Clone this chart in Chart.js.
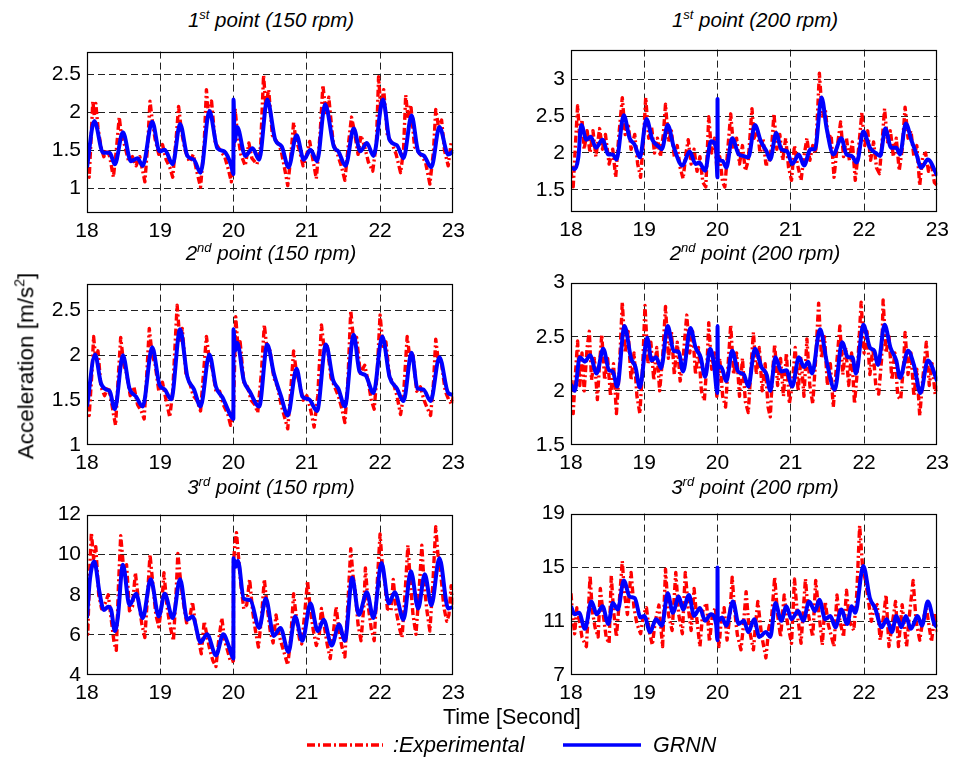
<!DOCTYPE html>
<html>
<head>
<meta charset="utf-8">
<script src="https://cdn.jsdelivr.net/npm/chart.js@4.4.1/dist/chart.umd.min.js"></script>
<style>
  html, body { margin:0; padding:0; background:#fff; }
  #wrap { position:relative; width:954px; height:757px; overflow:hidden; font-family:'Liberation Sans', Arial, sans-serif; color:#000; }
  canvas { position:absolute; }
  .ttl { position:absolute; width:400px; text-align:center; font-style:italic; font-size:20.5px; line-height:22px; white-space:nowrap; }
  .ttl sup { font-size:13px; vertical-align:8px; line-height:0; }
  .lbl { position:absolute; white-space:nowrap; font-size:21.5px; line-height:24px; }
</style>
</head>
<body>
<div id="wrap">
  <svg id="leg" width="954" height="757" style="position:absolute;left:0;top:0;pointer-events:none">
    <line x1="307" y1="745" x2="383" y2="745" stroke="#ff0000" stroke-width="3.5" stroke-dasharray="8 3 2 3"/>
    <line x1="563" y1="745" x2="641" y2="745" stroke="#0000ff" stroke-width="3.5"/>
  </svg>
</div>
<script>
// ---------- data (time [s], acceleration [m/s^2]) ----------
const xTicks = [18, 19, 20, 21, 22, 23];
const p1YTicks = [1, 1.5, 2, 2.5];
const p2YTicks = [1.5, 2, 2.5, 3];
const p3YTicks = [1, 1.5, 2, 2.5];
const p4YTicks = [1.5, 2, 2.5, 3];
const p5YTicks = [4, 6, 8, 10, 12];
const p6YTicks = [7, 11, 15, 19];
const titles = [
  '1<sup>st</sup> point (150 rpm)', '1<sup>st</sup> point (200 rpm)',
  '2<sup>nd</sup> point (150 rpm)', '2<sup>nd</sup> point (200 rpm)',
  '3<sup>rd</sup> point (150 rpm)', '3<sup>rd</sup> point (200 rpm)'
];
const seriesNames = [':Experimental', 'GRNN'];

const p1Grnn = [[18.00,1.28],[18.10,1.89],[18.22,1.47],[18.31,1.47],[18.38,1.32],[18.49,1.74],[18.60,1.36],[18.69,1.40],[18.76,1.30],[18.89,1.88],[18.99,1.49],[19.06,1.51],[19.17,1.32],[19.27,1.85],[19.37,1.43],[19.46,1.38],[19.55,1.21],[19.67,2.02],[19.78,1.53],[19.87,1.49],[19.97,1.30],[19.998,1.19],[20.0,2.17],[20.015,1.62],[20.05,1.81],[20.16,1.43],[20.26,1.53],[20.35,1.38],[20.46,2.17],[20.57,1.64],[20.66,1.55],[20.75,1.28],[20.86,1.70],[20.96,1.38],[21.05,1.51],[21.14,1.36],[21.25,2.11],[21.37,1.55],[21.43,1.49],[21.53,1.30],[21.64,1.79],[21.73,1.49],[21.82,1.60],[21.91,1.43],[22.04,2.17],[22.13,1.64],[22.23,1.57],[22.32,1.40],[22.43,1.96],[22.52,1.49],[22.60,1.43],[22.70,1.28],[22.81,1.81],[22.93,1.45],[23.00,1.49]];
const p1Exp = [[18.00,1.30],[18.03,1.15],[18.06,1.75],[18.08,2.15],[18.10,1.95],[18.12,2.12],[18.15,1.80],[18.19,1.55],[18.23,1.42],[18.27,1.52],[18.31,1.42],[18.36,1.15],[18.40,1.50],[18.44,1.94],[18.47,1.70],[18.52,1.55],[18.57,1.35],[18.62,1.42],[18.67,1.30],[18.72,1.42],[18.79,1.09],[18.83,1.60],[18.86,2.15],[18.89,1.90],[18.93,1.65],[18.98,1.45],[19.03,1.58],[19.08,1.38],[19.13,1.28],[19.17,1.15],[19.22,1.70],[19.25,2.08],[19.29,1.75],[19.34,1.50],[19.40,1.35],[19.45,1.45],[19.50,1.22],[19.55,1.02],[19.60,1.60],[19.63,2.30],[19.66,1.95],[19.70,2.15],[19.75,1.60],[19.82,1.50],[19.88,1.42],[19.93,1.25],[19.97,1.09],[20.00,1.40],[20.02,2.06],[20.05,1.75],[20.10,1.45],[20.16,1.30],[20.21,1.60],[20.25,1.40],[20.32,1.32],[20.37,1.55],[20.41,2.49],[20.44,2.10],[20.48,2.30],[20.53,1.70],[20.59,1.62],[20.65,1.50],[20.70,1.25],[20.74,1.04],[20.78,1.40],[20.82,1.87],[20.85,1.65],[20.90,1.50],[20.95,1.30],[21.00,1.45],[21.04,1.62],[21.08,1.40],[21.13,1.13],[21.18,1.70],[21.22,2.36],[21.26,2.00],[21.30,2.20],[21.36,1.60],[21.42,1.45],[21.47,1.30],[21.52,1.11],[21.57,1.60],[21.61,1.94],[21.65,1.75],[21.70,1.45],[21.74,1.70],[21.79,1.55],[21.84,1.35],[21.90,1.23],[21.95,1.60],[21.98,2.47],[22.01,2.05],[22.05,2.30],[22.10,1.70],[22.16,1.60],[22.22,1.45],[22.28,1.21],[22.32,1.50],[22.35,2.23],[22.38,1.95],[22.42,2.10],[22.47,1.55],[22.55,1.45],[22.62,1.35],[22.68,1.06],[22.73,1.50],[22.76,2.04],[22.80,1.80],[22.84,1.90],[22.88,1.50],[22.93,1.30],[22.97,1.60],[23.00,1.62]];

const p2Grnn = [[18.00,1.80],[18.05,1.78],[18.10,1.94],[18.14,2.38],[18.21,2.18],[18.27,2.22],[18.34,2.07],[18.43,2.18],[18.51,1.98],[18.57,1.98],[18.62,1.91],[18.72,2.51],[18.80,2.20],[18.87,2.11],[18.94,1.94],[19.03,2.46],[19.11,2.18],[19.19,2.09],[19.24,2.05],[19.32,2.38],[19.40,2.09],[19.52,1.83],[19.62,2.02],[19.70,1.85],[19.75,1.87],[19.83,1.76],[19.91,2.16],[19.98,2.07],[19.999,1.67],[20.0,2.73],[20.003,1.95],[20.07,1.89],[20.12,1.80],[20.20,2.20],[20.29,1.98],[20.35,1.96],[20.42,1.94],[20.51,2.38],[20.59,2.16],[20.67,2.02],[20.72,1.91],[20.80,2.27],[20.87,2.05],[20.95,2.02],[21.02,1.85],[21.11,1.98],[21.18,1.83],[21.27,2.05],[21.33,2.05],[21.42,2.75],[21.49,2.33],[21.58,1.98],[21.69,2.20],[21.76,1.98],[21.83,1.96],[21.90,1.87],[21.99,2.29],[22.08,2.07],[22.16,2.00],[22.22,1.96],[22.29,2.33],[22.37,2.07],[22.44,2.07],[22.49,1.98],[22.57,2.40],[22.65,2.16],[22.71,2.00],[22.78,1.80],[22.87,1.91],[23.00,1.69]];
const p2Exp = [[18.00,1.75],[18.03,1.54],[18.06,2.10],[18.09,2.64],[18.12,2.20],[18.15,2.45],[18.18,2.05],[18.22,2.30],[18.26,2.00],[18.30,2.30],[18.34,1.95],[18.39,2.33],[18.43,2.05],[18.47,2.25],[18.52,1.85],[18.57,2.05],[18.61,1.67],[18.65,2.20],[18.70,2.75],[18.74,2.25],[18.78,2.40],[18.82,2.05],[18.87,2.25],[18.91,1.85],[18.95,1.67],[18.99,2.20],[19.02,2.75],[19.06,2.20],[19.10,2.35],[19.14,2.00],[19.18,2.20],[19.22,1.95],[19.26,2.25],[19.29,2.66],[19.33,2.15],[19.37,2.30],[19.41,1.95],[19.45,2.10],[19.49,1.80],[19.53,1.65],[19.57,2.00],[19.60,2.18],[19.64,1.85],[19.68,2.05],[19.72,1.75],[19.76,1.95],[19.80,1.60],[19.84,1.54],[19.88,2.49],[19.92,2.00],[19.96,2.20],[19.99,1.80],[20.03,1.95],[20.07,1.60],[20.10,1.54],[20.14,2.05],[20.18,2.53],[20.22,2.05],[20.26,2.20],[20.30,1.85],[20.34,2.10],[20.38,1.76],[20.42,1.90],[20.47,2.60],[20.50,2.20],[20.54,2.35],[20.58,2.00],[20.62,2.20],[20.66,1.85],[20.70,1.85],[20.74,2.10],[20.77,2.53],[20.81,2.05],[20.85,2.25],[20.89,1.90],[20.93,2.20],[20.97,1.80],[21.01,1.63],[21.05,2.10],[21.09,1.85],[21.14,1.63],[21.18,1.95],[21.22,2.20],[21.26,1.90],[21.30,2.10],[21.34,2.00],[21.39,3.08],[21.43,2.50],[21.47,2.60],[21.51,2.20],[21.55,2.25],[21.59,1.67],[21.63,2.05],[21.68,2.42],[21.72,1.95],[21.76,2.20],[21.80,1.90],[21.84,2.15],[21.88,1.63],[21.92,2.00],[21.97,2.55],[22.01,2.10],[22.05,2.30],[22.09,1.90],[22.13,2.15],[22.17,1.80],[22.21,1.72],[22.25,2.20],[22.28,2.60],[22.32,2.15],[22.36,2.30],[22.40,1.95],[22.44,2.20],[22.48,1.76],[22.52,2.05],[22.56,2.62],[22.60,2.20],[22.64,2.30],[22.68,1.95],[22.72,2.10],[22.76,1.56],[22.80,1.95],[22.84,2.00],[22.88,1.75],[22.92,1.85],[22.96,1.60],[23.00,1.56]];

const p3Grnn = [[18.00,1.43],[18.11,2.01],[18.19,1.69],[18.26,1.62],[18.31,1.60],[18.38,1.40],[18.49,2.00],[18.58,1.63],[18.67,1.54],[18.76,1.43],[18.89,2.09],[18.99,1.67],[19.06,1.62],[19.15,1.51],[19.27,2.29],[19.37,1.76],[19.46,1.62],[19.55,1.43],[19.67,2.01],[19.76,1.65],[19.85,1.53],[19.96,1.33],[19.998,1.29],[20.0,2.29],[20.02,2.05],[20.05,2.14],[20.14,1.72],[20.22,1.60],[20.35,1.43],[20.46,2.12],[20.55,1.80],[20.65,1.54],[20.74,1.33],[20.86,1.85],[20.94,1.54],[21.03,1.51],[21.14,1.38],[21.26,2.12],[21.36,1.72],[21.43,1.63],[21.52,1.43],[21.64,2.23],[21.72,1.82],[21.80,1.78],[21.91,1.58],[22.03,2.21],[22.13,1.76],[22.23,1.63],[22.32,1.49],[22.43,2.03],[22.51,1.63],[22.59,1.62],[22.69,1.49],[22.81,1.98],[22.93,1.58],[23.00,1.56]];
const p3Exp = [[18.00,1.45],[18.03,1.33],[18.07,1.85],[18.09,2.21],[18.12,1.95],[18.15,2.05],[18.19,1.65],[18.24,1.55],[18.29,1.65],[18.33,1.50],[18.36,1.35],[18.39,1.22],[18.43,1.80],[18.46,2.20],[18.50,1.90],[18.54,1.80],[18.59,1.55],[18.64,1.65],[18.69,1.45],[18.74,1.38],[18.78,1.29],[18.82,1.85],[18.85,2.30],[18.89,2.00],[18.93,1.90],[18.98,1.60],[19.03,1.70],[19.08,1.50],[19.13,1.31],[19.17,1.60],[19.23,2.56],[19.27,2.15],[19.30,2.30],[19.35,1.80],[19.40,1.70],[19.45,1.55],[19.50,1.50],[19.55,1.38],[19.59,1.80],[19.63,2.21],[19.67,1.95],[19.71,1.85],[19.76,1.60],[19.81,1.60],[19.86,1.45],[19.92,1.35],[19.96,1.22],[20.00,1.40],[20.03,2.43],[20.06,2.10],[20.09,2.15],[20.14,1.70],[20.19,1.65],[20.24,1.50],[20.29,1.45],[20.33,1.36],[20.38,1.80],[20.42,2.34],[20.46,2.05],[20.50,2.05],[20.55,1.75],[20.60,1.65],[20.65,1.45],[20.70,1.30],[20.74,1.18],[20.78,1.60],[20.82,2.05],[20.86,1.80],[20.90,1.70],[20.95,1.50],[21.00,1.55],[21.05,1.40],[21.10,1.20],[21.15,1.55],[21.20,2.34],[21.24,2.05],[21.28,2.10],[21.33,1.75],[21.38,1.65],[21.43,1.55],[21.48,1.40],[21.52,1.25],[21.56,1.70],[21.60,2.50],[21.64,2.15],[21.68,2.20],[21.73,1.80],[21.79,1.89],[21.84,1.70],[21.88,1.50],[21.92,1.40],[21.96,1.80],[22.00,2.45],[22.04,2.10],[22.08,2.15],[22.13,1.75],[22.18,1.70],[22.23,1.55],[22.28,1.34],[22.32,1.55],[22.37,2.21],[22.41,1.95],[22.45,2.00],[22.50,1.60],[22.55,1.65],[22.60,1.50],[22.65,1.40],[22.69,1.33],[22.73,1.70],[22.76,2.18],[22.80,1.90],[22.84,1.90],[22.89,1.60],[22.94,1.50],[22.98,1.45],[23.00,1.55]];

const p4Grnn = [[18.00,2.06],[18.05,2.00],[18.12,2.31],[18.19,2.27],[18.26,2.33],[18.35,2.16],[18.44,2.39],[18.52,2.19],[18.57,2.18],[18.63,2.04],[18.73,2.60],[18.82,2.30],[18.88,2.22],[18.94,2.03],[19.04,2.49],[19.10,2.28],[19.16,2.31],[19.23,2.21],[19.32,2.60],[19.40,2.37],[19.47,2.36],[19.53,2.18],[19.63,2.58],[19.70,2.40],[19.77,2.31],[19.83,2.13],[19.90,2.39],[19.95,2.25],[19.998,1.98],[20.0,2.60],[20.005,2.25],[20.05,2.22],[20.12,2.09],[20.20,2.37],[20.28,2.18],[20.36,2.15],[20.42,2.04],[20.51,2.39],[20.60,2.22],[20.67,2.15],[20.72,2.00],[20.79,2.31],[20.87,2.18],[20.94,2.19],[21.02,2.04],[21.11,2.31],[21.18,2.22],[21.24,2.27],[21.29,2.16],[21.40,2.57],[21.49,2.27],[21.60,2.01],[21.70,2.45],[21.78,2.31],[21.84,2.31],[21.89,2.16],[21.99,2.61],[22.08,2.40],[22.14,2.37],[22.19,2.24],[22.28,2.61],[22.36,2.40],[22.44,2.28],[22.49,2.12],[22.60,2.37],[22.68,2.24],[22.77,1.98],[22.87,2.28],[23.00,2.09]];
const p4Exp = [[18.00,2.10],[18.03,1.79],[18.06,2.15],[18.09,2.46],[18.12,2.05],[18.15,2.35],[18.18,2.00],[18.22,2.40],[18.25,2.55],[18.28,2.10],[18.32,2.30],[18.36,1.92],[18.39,2.25],[18.42,2.52],[18.46,2.10],[18.50,2.30],[18.54,1.95],[18.58,2.25],[18.62,1.79],[18.66,2.20],[18.70,2.82],[18.74,2.35],[18.78,2.55],[18.82,2.10],[18.86,2.35],[18.90,1.95],[18.94,1.79],[18.98,2.25],[19.01,2.79],[19.05,2.25],[19.09,2.45],[19.13,2.10],[19.17,2.40],[19.21,2.00],[19.25,2.30],[19.29,2.78],[19.33,2.30],[19.37,2.55],[19.41,2.15],[19.45,2.45],[19.49,2.09],[19.53,2.30],[19.58,2.70],[19.62,2.35],[19.66,2.55],[19.70,2.15],[19.74,2.40],[19.78,2.00],[19.82,1.91],[19.86,2.30],[19.88,2.63],[19.92,2.20],[19.96,2.35],[19.99,1.95],[20.03,2.30],[20.07,1.95],[20.11,1.85],[20.15,2.30],[20.18,2.61],[20.22,2.15],[20.26,2.35],[20.30,1.95],[20.34,2.30],[20.38,1.90],[20.42,1.80],[20.46,2.25],[20.49,2.54],[20.53,2.15],[20.57,2.40],[20.61,2.00],[20.65,2.25],[20.69,1.85],[20.72,1.76],[20.75,2.15],[20.78,2.43],[20.82,2.05],[20.86,2.30],[20.90,1.95],[20.94,2.35],[20.98,1.88],[21.02,2.05],[21.06,2.40],[21.10,2.00],[21.14,2.30],[21.18,1.95],[21.22,2.48],[21.26,2.05],[21.30,1.88],[21.34,2.30],[21.38,2.81],[21.42,2.30],[21.46,2.50],[21.50,2.05],[21.54,2.25],[21.58,1.85],[21.62,2.20],[21.67,2.60],[21.71,2.15],[21.75,2.40],[21.79,2.05],[21.83,2.35],[21.87,1.88],[21.91,2.20],[21.96,2.82],[22.00,2.35],[22.04,2.55],[22.08,2.15],[22.12,2.40],[22.16,2.05],[22.20,1.97],[22.24,2.30],[22.26,2.84],[22.30,2.35],[22.34,2.50],[22.38,2.10],[22.42,2.35],[22.46,1.95],[22.50,1.92],[22.54,2.25],[22.56,2.54],[22.60,2.15],[22.64,2.35],[22.68,1.95],[22.72,2.20],[22.76,1.77],[22.80,2.10],[22.85,2.45],[22.89,2.05],[22.93,2.25],[22.97,1.97],[23.00,2.05]];

const p5Grnn = [[18.00,6.84],[18.04,8.77],[18.10,9.66],[18.17,8.13],[18.23,7.24],[18.29,7.40],[18.33,7.24],[18.38,6.19],[18.42,6.84],[18.49,9.50],[18.58,7.48],[18.67,8.05],[18.76,6.84],[18.87,8.77],[18.98,6.92],[19.06,8.05],[19.17,6.84],[19.27,8.77],[19.37,6.76],[19.44,6.92],[19.55,5.63],[19.64,6.03],[19.76,4.98],[19.86,6.03],[19.94,5.39],[19.998,4.82],[20.0,9.82],[20.03,9.40],[20.06,9.70],[20.14,7.81],[20.23,7.73],[20.35,6.35],[20.44,7.81],[20.55,5.95],[20.64,6.35],[20.75,5.15],[20.84,6.92],[20.94,5.71],[21.05,7.56],[21.15,6.19],[21.23,6.76],[21.34,5.47],[21.44,6.52],[21.52,5.71],[21.62,8.85],[21.71,7.00],[21.82,8.13],[21.91,6.84],[22.02,9.58],[22.12,7.56],[22.20,8.13],[22.32,6.76],[22.42,9.18],[22.52,7.32],[22.61,9.02],[22.70,7.48],[22.81,9.82],[22.93,7.32],[23.00,7.40]];
const p5Exp = [[18.00,6.60],[18.01,6.03],[18.04,9.50],[18.06,11.10],[18.09,9.80],[18.12,10.40],[18.16,8.00],[18.20,7.30],[18.25,7.60],[18.29,8.00],[18.33,6.80],[18.37,5.60],[18.40,5.23],[18.43,8.50],[18.46,10.95],[18.50,9.30],[18.54,9.50],[18.58,7.20],[18.62,7.40],[18.66,9.10],[18.70,7.80],[18.75,6.50],[18.79,5.87],[18.83,8.20],[18.86,10.00],[18.90,8.50],[18.94,7.00],[18.98,6.40],[19.02,7.50],[19.05,9.10],[19.09,7.50],[19.13,6.50],[19.18,5.71],[19.22,8.40],[19.24,10.06],[19.28,8.60],[19.32,7.50],[19.36,6.60],[19.40,6.80],[19.44,7.65],[19.48,6.50],[19.52,5.80],[19.56,5.06],[19.60,6.68],[19.64,5.90],[19.68,5.20],[19.72,4.70],[19.76,4.42],[19.80,5.80],[19.84,6.84],[19.88,5.70],[19.92,5.20],[19.96,4.66],[19.998,4.70],[20.0,9.60],[20.02,10.60],[20.04,11.10],[20.07,9.80],[20.10,8.50],[20.14,7.30],[20.18,7.50],[20.22,8.77],[20.26,7.20],[20.30,6.20],[20.34,5.39],[20.38,6.80],[20.42,8.77],[20.46,7.40],[20.50,6.20],[20.54,5.60],[20.58,7.00],[20.62,6.00],[20.66,5.50],[20.70,5.00],[20.74,4.50],[20.78,5.80],[20.82,8.05],[20.86,6.80],[20.90,5.80],[20.93,5.55],[20.97,7.00],[21.01,8.69],[21.05,7.20],[21.09,6.20],[21.13,5.47],[21.17,6.00],[21.20,7.32],[21.24,6.40],[21.28,5.50],[21.32,4.82],[21.36,6.00],[21.40,7.40],[21.44,6.20],[21.48,5.40],[21.52,4.90],[21.56,7.50],[21.60,10.30],[21.63,9.00],[21.66,8.20],[21.70,6.50],[21.74,5.71],[21.78,7.50],[21.80,9.34],[21.84,7.40],[21.88,6.30],[21.92,5.71],[21.96,8.50],[22.00,11.03],[22.03,9.50],[22.06,8.80],[22.10,7.30],[22.15,7.20],[22.18,8.77],[22.22,7.20],[22.26,6.40],[22.30,5.87],[22.34,8.00],[22.38,10.47],[22.41,8.80],[22.45,7.00],[22.49,6.03],[22.53,8.00],[22.57,10.47],[22.60,8.60],[22.64,7.20],[22.68,6.19],[22.72,8.50],[22.76,11.40],[22.79,10.00],[22.83,9.00],[22.87,7.40],[22.91,6.68],[22.94,7.00],[22.97,8.45],[23.00,7.50]];

const p6Grnn = [[18.00,12.11],[18.05,11.51],[18.11,11.63],[18.19,10.43],[18.28,12.47],[18.35,11.51],[18.43,12.11],[18.51,10.79],[18.57,12.35],[18.64,11.87],[18.72,14.03],[18.80,12.83],[18.87,12.71],[18.95,11.27],[19.00,11.39],[19.08,10.19],[19.16,11.15],[19.24,10.67],[19.32,13.07],[19.39,11.63],[19.47,12.83],[19.53,11.87],[19.61,12.95],[19.68,11.39],[19.76,11.99],[19.83,11.03],[19.91,11.51],[19.98,10.79],[19.999,9.59],[20.0,14.99],[20.003,11.00],[20.06,11.27],[20.12,10.67],[20.21,12.47],[20.29,10.79],[20.36,11.03],[20.42,10.19],[20.50,11.15],[20.57,9.83],[20.66,10.19],[20.72,9.83],[20.79,12.35],[20.87,11.03],[20.94,12.11],[21.01,11.15],[21.10,11.75],[21.17,11.03],[21.25,12.47],[21.33,11.75],[21.39,12.59],[21.47,11.15],[21.54,11.39],[21.61,10.55],[21.69,11.87],[21.77,10.79],[21.83,12.11],[21.88,11.63],[21.99,15.11],[22.08,12.71],[22.15,11.99],[22.24,10.55],[22.31,11.15],[22.38,10.19],[22.44,11.39],[22.51,10.55],[22.57,11.39],[22.64,10.43],[22.73,11.39],[22.79,10.67],[22.87,12.47],[22.96,10.79],[23.00,10.55]];
const p6Exp = [[18.00,13.07],[18.02,11.50],[18.05,10.07],[18.08,12.00],[18.11,11.20],[18.15,9.80],[18.21,9.11],[18.24,12.00],[18.26,14.39],[18.29,11.80],[18.33,10.50],[18.37,9.83],[18.40,13.43],[18.44,11.50],[18.48,9.80],[18.52,9.35],[18.55,14.39],[18.58,11.80],[18.62,9.83],[18.66,12.50],[18.70,15.47],[18.73,13.00],[18.77,11.50],[18.82,14.63],[18.86,12.00],[18.90,10.80],[18.95,10.07],[18.99,11.50],[19.03,12.00],[19.07,10.20],[19.11,9.23],[19.15,11.00],[19.20,12.20],[19.25,9.11],[19.29,14.87],[19.33,11.50],[19.38,10.31],[19.43,14.63],[19.47,11.50],[19.52,10.07],[19.56,14.63],[19.60,12.00],[19.64,10.31],[19.68,13.43],[19.72,11.00],[19.76,9.11],[19.80,11.80],[19.85,12.35],[19.89,9.47],[19.93,11.50],[19.97,12.00],[20.02,9.11],[20.05,11.00],[20.09,12.00],[20.13,9.59],[20.17,11.50],[20.20,14.27],[20.23,12.00],[20.27,10.00],[20.32,8.87],[20.35,10.50],[20.39,13.19],[20.43,10.50],[20.49,8.87],[20.52,10.80],[20.55,12.47],[20.60,10.00],[20.66,8.27],[20.70,10.50],[20.74,11.39],[20.78,14.27],[20.82,11.50],[20.86,9.83],[20.91,12.95],[20.95,11.00],[21.01,9.35],[21.05,14.15],[21.09,11.50],[21.14,9.35],[21.20,14.15],[21.24,11.50],[21.30,9.83],[21.34,14.03],[21.38,11.80],[21.43,9.23],[21.47,12.47],[21.51,10.80],[21.59,9.11],[21.63,12.95],[21.67,11.00],[21.72,9.83],[21.76,13.31],[21.80,11.00],[21.86,10.31],[21.90,13.00],[21.94,18.10],[21.98,15.00],[22.02,14.00],[22.06,12.50],[22.10,11.00],[22.14,12.00],[22.18,12.23],[22.22,9.59],[22.27,11.50],[22.30,12.95],[22.34,9.11],[22.39,11.00],[22.43,12.47],[22.47,9.11],[22.52,12.23],[22.58,9.11],[22.62,11.50],[22.67,14.03],[22.71,11.00],[22.76,9.59],[22.80,11.00],[22.85,12.00],[22.92,9.47],[22.97,11.63],[23.00,10.20]];

// ---------- layout ----------
const FONT = "'Liberation Sans', Arial, Helvetica, sans-serif";
const panels = [
  {rect:[87,47,455,213],  min:0.68, max:2.8, ticks:p1YTicks, exp:p1Exp, grnn:p1Grnn, title:titles[0], ty:20},
  {rect:[571,45,939,212], min:1.2,  max:3.4, ticks:p2YTicks, exp:p2Exp, grnn:p2Grnn, title:titles[1], ty:20},
  {rect:[87,279,455,445], min:1.0,  max:2.8, ticks:p3YTicks, exp:p3Exp, grnn:p3Grnn, title:titles[2], ty:253},
  {rect:[571,278,939,445],min:1.5,  max:3.0, ticks:p4YTicks, exp:p4Exp, grnn:p4Grnn, title:titles[3], ty:253},
  {rect:[87,510,455,675], min:4,    max:12,  ticks:p5YTicks, exp:p5Exp, grnn:p5Grnn, title:titles[4], ty:487},
  {rect:[571,509,939,675],min:7,    max:19,  ticks:p6YTicks, exp:p6Exp, grnn:p6Grnn, title:titles[5], ty:487}
];
const PADL = 70, PADT = 14, PADR = 16, PADB = 34;

const boxPlugin = {
  id:'box',
  afterDraw(chart){
    const {ctx, chartArea:a} = chart;
    ctx.save();
    ctx.strokeStyle = '#000';
    ctx.lineWidth = 1.2;
    ctx.setLineDash([]);
    ctx.strokeRect(Math.round(a.left)+0.5, Math.round(a.top)+0.5, Math.round(a.right-a.left)-1, Math.round(a.bottom-a.top)-1);
    ctx.restore();
  }
};

const wrap = document.getElementById('wrap');
panels.forEach(p => {
  const [L,T,R,B] = p.rect;
  const cv = document.createElement('canvas');
  const w = (R-L) + PADL + PADR, h = (B-T) + PADT + PADB;
  cv.width = w; cv.height = h;
  cv.style.left = (L-PADL)+'px'; cv.style.top = (T-PADT)+'px';
  cv.style.width = w+'px'; cv.style.height = h+'px';
  wrap.appendChild(cv);

  const t = document.createElement('div');
  t.className = 'ttl';
  t.innerHTML = p.title;
  t.style.left = ((L+R)/2 - 200)+'px';
  t.style.top = (p.ty - 11)+'px';
  wrap.appendChild(t);

  const gridColor = (c) => (c.tick && (Math.abs(c.tick.value - c.scale.min) < 1e-9 || Math.abs(c.tick.value - c.scale.max) < 1e-9)) ? 'rgba(0,0,0,0)' : '#222';

  new Chart(cv, {
    type:'line',
    data:{
      datasets:[
        {label:seriesNames[1], data:p.grnn.map(d=>({x:d[0], y:d[1]})), borderColor:'#0000ff', borderWidth:4,
         borderJoinStyle:'round', pointRadius:0, cubicInterpolationMode:'monotone', order:0, fill:false},
        {label:seriesNames[0], data:p.exp.map(d=>({x:d[0], y:d[1]})), borderColor:'#ff0000', borderWidth:3.4,
         borderJoinStyle:'round', borderDash:[7,3,2,3], pointRadius:0, tension:0, order:1, fill:false}
      ]
    },
    options:{
      responsive:false, animation:false, devicePixelRatio:1,
      layout:{padding:{left:0, top:PADT, right:PADR, bottom:0}},
      plugins:{legend:{display:false}, tooltip:{enabled:false}},
      scales:{
        x:{type:'linear', min:18, max:23,
           afterBuildTicks(ax){ ax.ticks = xTicks.map(v=>({value:v})); },
           afterFit(ax){ ax.height = PADB; },
           ticks:{font:{family:FONT, size:21}, color:'#000', padding:6, maxRotation:0, autoSkip:false, callback:v=>String(v)},
           grid:{color:gridColor, lineWidth:1, drawTicks:false},
           border:{display:false, dash:[7,4]}},
        y:{type:'linear', min:p.min, max:p.max,
           afterBuildTicks(ax){ ax.ticks = p.ticks.map(v=>({value:v})); },
           afterFit(ax){ ax.width = PADL; },
           ticks:{font:{family:FONT, size:21}, color:'#000', padding:6, autoSkip:false, callback:v=>String(v)},
           grid:{color:gridColor, lineWidth:1, drawTicks:false},
           border:{display:false, dash:[7,4]}}
      }
    },
    plugins:[boxPlugin]
  });
});

// axis titles and legend text
function addLabel(html, css){
  const d = document.createElement('div');
  d.className = 'lbl';
  d.innerHTML = html;
  Object.assign(d.style, css);
  wrap.appendChild(d);
  return d;
}
const yl = addLabel('Acceleration [m/s<sup style="font-size:14px;vertical-align:9px;line-height:0">2</sup>]', {fontSize:'22.5px'});
yl.style.left = '0px'; yl.style.top = '0px';
const yw = yl.offsetWidth, yh = yl.offsetHeight;
yl.style.left = (26 - yw/2)+'px'; yl.style.top = (366 - yh/2)+'px';
yl.style.transform = 'rotate(-90deg)';

const xl = addLabel('Time [Second]', {fontSize:'21.5px'});
xl.style.left = (512 - xl.offsetWidth/2)+'px'; xl.style.top = (717 - 12)+'px';

addLabel(seriesNames[0], {left:'393px', top:(745-12)+'px', fontStyle:'italic'});
addLabel(seriesNames[1], {left:'653px', top:(745-12)+'px', fontStyle:'italic'});
</script>
</body>
</html>
